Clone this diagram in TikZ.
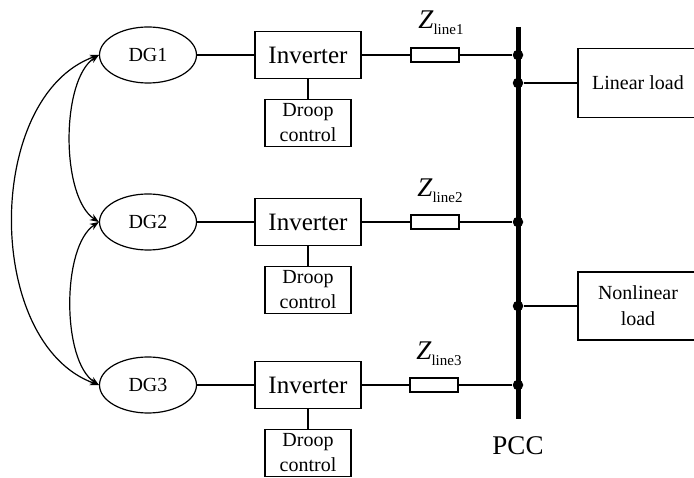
\documentclass[tikz,border=0pt]{standalone}
\usepackage{fontspec}
\setmainfont{Liberation Serif}
\usetikzlibrary{positioning, shapes.geometric, arrows.meta}

\newcommand{\zlab}[1]{{\fontsize{27}{30}\selectfont\itshape Z}\raisebox{-6pt}{\fontsize{15}{17}\selectfont line#1}}

\begin{document}
\begin{tikzpicture}[x=1pt, y=1pt, line width=1.2pt,
    dg/.style={draw, ellipse, minimum width=97pt, minimum height=56pt, inner sep=0pt, font=\fontsize{20}{22}\selectfont},
    inv/.style={draw, rectangle, minimum width=106pt, minimum height=47pt, inner sep=0pt, font=\fontsize{25}{28}\selectfont},
    droop/.style={draw, rectangle, minimum width=86pt, minimum height=47pt, inner sep=0pt, align=center, font=\fontsize{20}{25}\selectfont},
    imp/.style={draw, rectangle, minimum width=48pt, minimum height=14pt, inner sep=0pt},
    load/.style={draw, rectangle, minimum width=120pt, inner sep=0pt, align=center, font=\fontsize{20}{26}\selectfont},
    dot/.style={circle, fill, inner sep=0pt, minimum size=10.5pt},
    link/.style={{Stealth[length=9pt,width=7pt]}-{Stealth[length=9pt,width=7pt]}}]
    \clip (0,0) rectangle (694,-478);

    % Sources
    \node[dg] (dg1) at (148,-55) {DG1};
    \node[dg] (dg2) at (148,-222) {DG2};
    \node[dg] (dg3) at (148,-385) {DG3};

    % Inverters and their droop control
    \node[inv] (inv1) at (308,-55) {Inverter};
    \node[inv] (inv2) at (308,-222) {Inverter};
    \node[inv] (inv3) at (308,-385) {Inverter};
    \node[droop] (dc1) at (308,-123) {Droop\\control};
    \node[droop] (dc2) at (308,-290) {Droop\\control};
    \node[droop] (dc3) at (308,-453) {Droop\\control};

    % Line impedances
    \node[imp] (z1) at (435,-55) {};
    \node[imp] (z2) at (435,-222) {};
    \node[imp] (z3) at (434,-385) {};
    \node (zl1) at (441,-23) {\zlab{1}};
    \node (zl2) at (440,-191) {\zlab{2}};
    \node (zl3) at (439,-354) {\zlab{3}};

    % PCC bus
    \coordinate (bustop) at (518,-27);
    \coordinate (busbot) at (518,-419);
    \draw[line width=5pt] (bustop) -- (busbot);
    \node[font=\fontsize{27}{30}\selectfont] (pcc) at (518,-446) {PCC};
    \node[dot] (j1) at (518,-55) {};
    \node[dot] (jl) at (518,-83) {};
    \node[dot] (j2) at (518,-222) {};
    \node[dot] (jn) at (518,-306) {};
    \node[dot] (j3) at (518,-385) {};

    % Loads
    \node[load, minimum height=69pt] (lin) at (638,-83) {Linear load};
    \node[load, minimum height=68pt] (nonlin) at (638,-306) {Nonlinear\\load};

    % Wiring
    \draw (dg1) -- (inv1) (inv1) -- (dc1) (inv1) -- (z1) (z1) -- (j1);
    \draw (dg2) -- (inv2) (inv2) -- (dc2) (inv2) -- (z2) (z2) -- (j2);
    \draw (dg3) -- (inv3) (inv3) -- (dc3) (inv3) -- (z3) (z3) -- (j3);
    \draw (jl) -- (lin);
    \draw (jn) -- (nonlin);

    % Communication between sources
    \draw[link] (dg1.west) to[out=213, in=147, looseness=0.7] (dg2.west);
    \draw[link] (dg2.west) to[out=213, in=147, looseness=0.7] (dg3.west);
    \draw[link] (dg1.west) to[out=200, in=160, looseness=0.95] (dg3.west);
\end{tikzpicture}
\end{document}
